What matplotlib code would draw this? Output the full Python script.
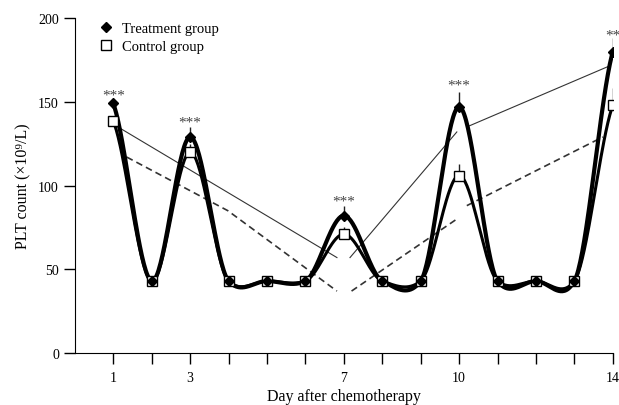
import numpy as np
import matplotlib
matplotlib.use("Agg")
import matplotlib.pyplot as plt
from matplotlib.lines import Line2D

plt.rcParams['font.family'] = ['Liberation Serif', 'DejaVu Serif']

# data
days = [1, 2, 3, 4, 5, 6, 7, 8, 9, 10, 11, 12, 13, 14]
treatment = [149, 43, 129, 43, 43, 43, 82, 43, 43, 147, 43, 43, 43, 180]
control = [138.5, 43, 120, 43, 43, 43, 71, 43, 43, 106, 43, 43, 43, 148]
treat_err = [0, 0, 6, 0, 0, 0, 6, 0, 0, 9, 0, 0, 0, 8]
ctrl_err = [0, 0, 5, 0, 0, 0, 4, 0, 0, 7, 0, 0, 0, 10]
tick_labels = ['1', '', '3', '', '', '', '7', '', '', '10', '', '', '', '14']

star_days = [1, 3, 7, 10, 14]
star_y = [150, 134, 87, 156, 186]
star_txt = ['***', '***', '***', '***', '**']

# thin reference lines (nan = break)
solid_x = [1.12, 6.82, np.nan, 7.16, 9.94, np.nan, 10.2, 13.87]
solid_y = [135, 57, np.nan, 57, 132, np.nan, 135, 171]
dash_x = [1.35, 3.98, 6.82, np.nan, 7.2, 9.94, np.nan, 10.2, 13.74]
dash_y = [117, 85, 37, np.nan, 37, 80, np.nan, 88, 129]


def smooth(x, y, k=0.6, n=40):
    x = np.asarray(x, float)
    y = np.asarray(y, float)
    m = np.gradient(y, x) * k
    xs, ys = [], []
    t = np.linspace(0, 1, n)
    h00 = 2*t**3 - 3*t**2 + 1
    h10 = t**3 - 2*t**2 + t
    h01 = -2*t**3 + 3*t**2
    h11 = t**3 - t**2
    for i in range(len(x) - 1):
        h = x[i+1] - x[i]
        xs.append(x[i] + t*h)
        ys.append(h00*y[i] + h10*h*m[i] + h01*y[i+1] + h11*h*m[i+1])
    return np.concatenate(xs), np.concatenate(ys)


fig = plt.figure(figsize=(6.19, 4.06), dpi=100)
ax = fig.add_axes([0.121, 0.128, 0.869, 0.825])

ax.plot(solid_x, solid_y, color='#333333', lw=0.8, zorder=1)
ax.plot(dash_x, dash_y, color='#333333', lw=1.2, ls=(0, (4, 2.5)), zorder=1)

cx, cy = smooth(days, control)
ax.plot(cx, cy, color='black', lw=2.2, zorder=2)
tx, ty = smooth(days, treatment)
ax.plot(tx, ty, color='black', lw=3.0, zorder=3)

ax.errorbar(days, control, yerr=[np.zeros(len(days)), ctrl_err], fmt='none',
            ecolor='#222222', elinewidth=1.0, capsize=0, zorder=4)
ax.errorbar(days, treatment, yerr=[np.zeros(len(days)), treat_err], fmt='none',
            ecolor='#222222', elinewidth=1.0, capsize=0, zorder=4)
ax.plot(days, control, ls='none', marker='s', ms=6.5, mfc='white', mec='black',
        mew=1.0, zorder=5)
ax.plot(days, treatment, ls='none', marker='D', ms=5, color='black', zorder=6)

for d, yv, s in zip(star_days, star_y, star_txt):
    ax.text(d, yv, s, ha='center', va='bottom', fontsize=11, color='#444444',
            clip_on=False)

ax.set_xlim(0, 14)
ax.set_ylim(0, 200)
ax.set_xticks(days)
ax.set_xticklabels(tick_labels, fontsize=10)
ax.set_yticks([0, 50, 100, 150, 200])
ax.tick_params(axis='both', direction='out', length=8, width=1, labelsize=10)
ax.tick_params(axis='x', pad=5)
ax.spines['top'].set_visible(False)
ax.spines['right'].set_visible(False)
ax.set_xlabel('Day after chemotherapy', fontsize=11.5, labelpad=3)
ax.set_ylabel('PLT count (×10⁹/L)', fontsize=11.5, labelpad=5)

handles = [Line2D([], [], ls='none', marker='D', ms=5.5, color='black'),
           Line2D([], [], ls='none', marker='s', ms=7, mfc='white', mec='black', mew=1.0)]
ax.legend(handles, ['Treatment group', 'Control group'], loc='upper left',
          bbox_to_anchor=(0.02, 1.027), frameon=False, fontsize=10.5,
          handlelength=1.0, handletextpad=0.6, labelspacing=0.3)

fig.savefig('out.png', dpi=100)
